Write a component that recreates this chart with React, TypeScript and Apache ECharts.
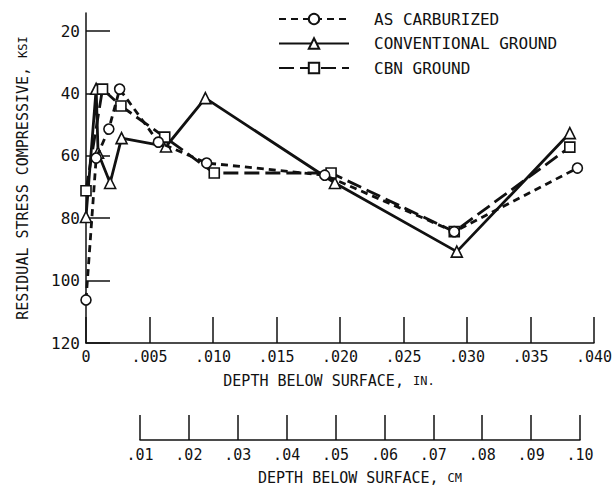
import React, { useEffect, useRef } from "react";
import * as echarts from "echarts";

// ---- data (depth in inches, residual compressive stress in ksi) ----
const asCarbDepth = [0, 0.0008, 0.0018, 0.00265, 0.0057, 0.0095, 0.0188, 0.029, 0.0387];
const asCarbStress = [106.2, 60.7, 51.4, 38.6, 55.6, 62.3, 66.2, 84.3, 63.9];

const convDepth = [0, 0.0008, 0.00095, 0.0019, 0.0028, 0.0063, 0.0094, 0.0196, 0.0292, 0.0381];
const convStress = [79.6, 38.5, 59.0, 68.7, 54.3, 57.0, 41.5, 68.7, 90.7, 52.7];

const cbnDepth = [0, 0.0013, 0.00275, 0.0062, 0.0101, 0.0193, 0.029, 0.0381];
const cbnStress = [71.2, 38.6, 44.0, 54.0, 65.5, 65.5, 84.3, 57.2];

const seriesNames = ["AS CARBURIZED", "CONVENTIONAL GROUND", "CBN GROUND"];
const stressTicks = [20, 40, 60, 80, 100, 120];

const FONT = "DejaVu Sans Mono";

function pairs(xs: number[], ys: number[]) {
  return xs.map((x, i) => [x, ys[i]]);
}

export default function App() {
  const ref = useRef<HTMLDivElement>(null);
  useEffect(() => {
    if (!ref.current) return;
    const chart = echarts.init(ref.current, undefined, { renderer: "svg" });
    const axisLine = { lineStyle: { color: "#111", width: 1.5 } };
    const label = { color: "#111", fontFamily: FONT, fontSize: 15 };
    const marker = { color: "#fff", borderColor: "#111", borderWidth: 1.6 };
    chart.setOption({
      animation: false,
      backgroundColor: "#fff",
      textStyle: { fontFamily: FONT, color: "#111" },
      legend: {
        orient: "vertical",
        left: 278,
        top: 11,
        padding: 0,
        itemWidth: 70,
        itemHeight: 13,
        itemGap: 8.5,
        data: seriesNames,
        textStyle: {
          fontFamily: FONT,
          fontSize: 16,
          lineHeight: 14,
          color: "#111",
          padding: [0, 0, 0, 20],
        },
      },
      grid: [
        { left: 86, right: 19, top: 13, bottom: 148 },
        { left: 140, right: 35, top: 400, bottom: 51 },
      ],
      xAxis: [
        {
          type: "value",
          gridIndex: 0,
          min: 0,
          max: 0.04,
          interval: 0.005,
          splitLine: { show: false },
          axisLine,
          axisTick: { inside: true, length: 26, lineStyle: { color: "#111", width: 1.5 } },
          axisLabel: {
            ...label,
            margin: 6,
            formatter: (v: number) => (v === 0 ? "0" : v.toFixed(3).slice(1)),
          },
          name: "DEPTH BELOW SURFACE, {s|IN.}",
          nameLocation: "middle",
          nameGap: 30,
          nameTextStyle: {
            ...label,
            padding: [0, 22, 0, 0],
            rich: { s: { fontFamily: FONT, fontSize: 12, color: "#111" } },
          },
        },
        {
          type: "value",
          gridIndex: 1,
          min: 0.01,
          max: 0.1,
          interval: 0.01,
          splitLine: { show: false },
          axisLine,
          axisTick: { inside: true, length: 25, lineStyle: { color: "#111", width: 1.5 } },
          axisLabel: {
            ...label,
            margin: 7,
            formatter: (v: number) => v.toFixed(2).slice(1),
          },
          name: "DEPTH BELOW SURFACE, {s|CM}",
          nameLocation: "middle",
          nameGap: 30,
          nameTextStyle: {
            ...label,
            rich: { s: { fontFamily: FONT, fontSize: 12, color: "#111" } },
          },
        },
      ],
      yAxis: [
        {
          type: "value",
          gridIndex: 0,
          min: 14.2,
          max: 120,
          inverse: true,
          splitLine: { show: false },
          axisLine,
          axisTick: {
            inside: true,
            length: 24,
            customValues: stressTicks,
            lineStyle: { color: "#111", width: 1.5 },
          },
          axisLabel: { ...label, fontSize: 16, margin: 6, customValues: stressTicks },
          name: "RESIDUAL STRESS COMPRESSIVE, {s|KSI}",
          nameLocation: "middle",
          nameGap: 56,
          nameTextStyle: {
            ...label,
            rich: { s: { fontFamily: FONT, fontSize: 12, color: "#111" } },
          },
        },
        { type: "value", gridIndex: 1, show: false, min: 0, max: 1 },
      ],
      series: [
        {
          name: seriesNames[0],
          type: "line",
          xAxisIndex: 0,
          yAxisIndex: 0,
          data: pairs(asCarbDepth, asCarbStress),
          symbol: "circle",
          symbolSize: 10,
          lineStyle: { color: "#111", width: 2.8, type: [7, 5] },
          itemStyle: marker,
          z: 3,
        },
        {
          name: seriesNames[1],
          type: "line",
          xAxisIndex: 0,
          yAxisIndex: 0,
          data: pairs(convDepth, convStress),
          symbol: "triangle",
          symbolSize: 11,
          lineStyle: { color: "#111", width: 2.8, type: "solid" },
          itemStyle: marker,
          z: 2,
        },
        {
          name: seriesNames[2],
          type: "line",
          xAxisIndex: 0,
          yAxisIndex: 0,
          data: pairs(cbnDepth, cbnStress),
          symbol: "rect",
          symbolSize: 10,
          lineStyle: { color: "#111", width: 2.8, type: [15, 6] },
          itemStyle: marker,
          z: 2,
        },
      ],
    });
    return () => chart.dispose();
  }, []);
  return <div ref={ref} style={{ width: 615, height: 491, position: "absolute", left: 0, top: 0 }} />;
}
